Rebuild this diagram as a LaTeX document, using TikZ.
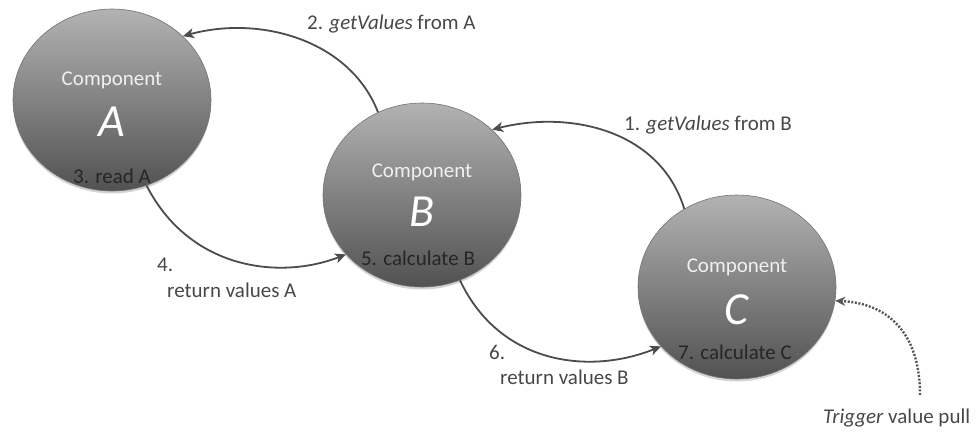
\documentclass[tikz,border=0pt]{standalone}
\usepackage{fontspec}
\setmainfont{Carlito}
\usetikzlibrary{arrows.meta,shapes.geometric,shadows}
\begin{document}
\begin{tikzpicture}[x=1pt,y=-1pt,
  comp/.style={ellipse, minimum width=198pt, minimum height=184pt, inner sep=0pt,
    draw=black!55, line width=0.6pt, top color=black!30, bottom color=black!68,
    drop shadow={shadow xshift=0pt,shadow yshift=-2.5pt,opacity=0.35}},
  ctitle/.style={text=white!94!black, font=\fontsize{21}{24}\selectfont, inner sep=0pt},
  cletter/.style={text=white, font=\fontsize{46}{50}\selectfont\itshape, inner sep=0pt},
  cstep/.style={text=black!85, font=\fontsize{21}{24}\selectfont, inner sep=0pt},
  lbl/.style={text=black!72, font=\fontsize{21}{24}\selectfont, anchor=west, inner sep=0pt},
  flow/.style={draw=black!70, line width=1.8pt, -{Stealth[length=11pt,width=10pt,inset=3pt]}},
  trig/.style={draw=black!66, line width=2.4pt, dash pattern=on 2pt off 1.6pt,
    -{Stealth[length=10pt,width=9pt,inset=3pt]}}
]
\useasboundingbox (0,0) rectangle (976,432);
% components
\node[comp, minimum height=182pt] (A) at (112,100) {};
\node[comp] (B) at (422,195) {};
\node[comp] (C) at (737,287) {};
\node[ctitle] (At) at (112,80) {Component};
\node[cletter] (Al) at (112,122) {A};
\node[cstep] (As) at (112,176) {3. read A};
\node[ctitle] (Bt) at (422,172) {Component};
\node[cletter] (Bl) at (422,212) {B};
\node[cstep] (Bs) at (418,258) {5. calculate B};
\node[ctitle] (Ct) at (737,267) {Component};
\node[cletter] (Cl) at (737,310) {C};
\node[cstep] (Cs) at (735,352) {7. calculate C};
% labels
\node[lbl] (l2) at (307,24) {2. \textit{getValues} from A};
\node[lbl] (l1) at (624,125) {1. \textit{getValues} from B};
\node[lbl] (l4a) at (157,265) {4.};
\node[lbl] (l4b) at (167,290) {return values A};
\node[lbl] (l6a) at (489,352) {6.};
\node[lbl] (l6b) at (500,377) {return values B};
\node[lbl] (lt) at (823,418) {\textit{Trigger} value pull};
% connectors
\draw[flow] (B.118) .. controls (350,40) and (260,15) .. (A.42);
\draw[flow] (C.124) .. controls (660,130) and (570,110) .. (B.43);
\draw[flow] (A.-68) .. controls (190,270) and (280,280) .. (B.218);
\draw[flow] (B.-66) .. controls (500,365) and (590,375) .. (C.218);
\coordinate (ts) at (920,395);
\draw[trig] (ts) .. controls (920,330) and (885,303) .. (C.-8);
\end{tikzpicture}
\end{document}
